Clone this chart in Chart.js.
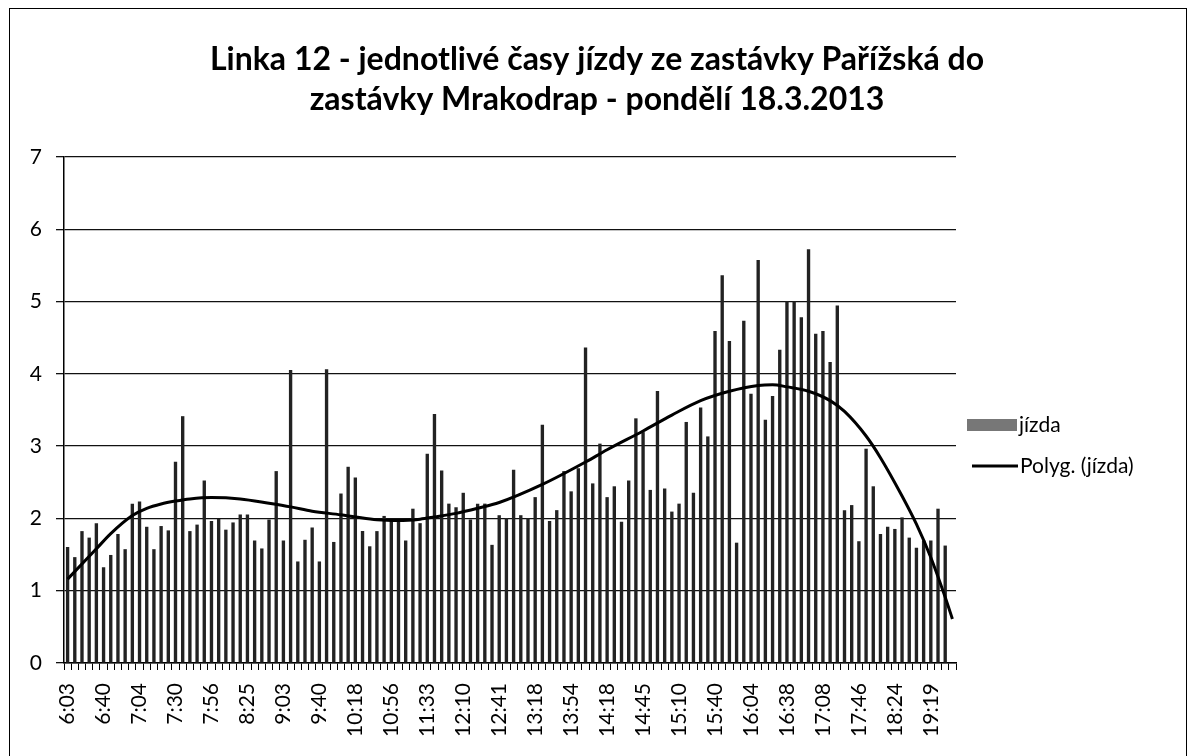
<!DOCTYPE html>
<html>
<head>
<meta charset="utf-8">
<script src="https://cdn.jsdelivr.net/npm/chart.js@4.4.1/dist/chart.umd.min.js"></script>
<style>
  body { margin: 0; background: #fff; }
  #wrap { position: relative; width: 1194px; height: 756px; overflow: hidden; }
  #frame { position: absolute; left: 9px; top: 8px; width: 1176px; height: 800px; border: 1.5px solid #000; }
  canvas { position: absolute; left: 0; top: 0; }
</style>
</head>
<body>
<div id="wrap">
  <div id="frame"></div>
  <canvas id="jizdy" width="1194" height="756"></canvas>
</div>
<script>
// popisky osy x - kazda 5. jizda
const tickLabels = ["6:03","6:40","7:04","7:30","7:56","8:25","9:03","9:40","10:18","10:56","11:33","12:10","12:41",
  "13:18","13:54","14:18","14:45","15:10","15:40","16:04","16:38","17:08","17:46","18:24","19:19"];

// doba jizdy v minutach
const jizda = [1.60,1.46,1.82,1.73,1.93,1.32,1.49,1.78,1.57,2.20,
  2.23,1.88,1.57,1.89,1.83,2.78,3.41,1.82,1.91,2.52,
  1.96,1.99,1.84,1.94,2.05,2.05,1.69,1.58,1.98,2.65,
  1.69,4.05,1.40,1.70,1.87,1.40,4.06,1.67,2.34,2.71,
  2.56,1.82,1.61,1.82,2.03,1.96,1.96,1.69,2.13,1.93,
  2.89,3.44,2.66,2.20,2.15,2.35,1.98,2.20,2.20,1.63,
  2.04,2.00,2.67,2.04,2.00,2.29,3.29,1.96,2.11,2.65,
  2.37,2.69,4.36,2.48,3.03,2.29,2.44,1.95,2.52,3.38,
  3.19,2.39,3.76,2.41,2.09,2.20,3.33,2.35,3.53,3.13,
  4.59,5.36,4.45,1.66,4.73,3.72,5.57,3.36,3.69,4.33,
  5.00,5.00,4.78,5.72,4.55,4.59,4.16,4.94,2.11,2.18,
  1.68,2.96,2.44,1.78,1.88,1.85,2.01,1.73,1.59,1.69,
  1.69,2.13,1.62,null];

// polynomicky trend - body odectene z krivky (index jizdy, hodnota)
const trendIdx = [0,4,6,9,11,13,15,17,20,24,28,31,34,38,40,43,46,49,51,54,57,60,66,72,75,80,84,88,92,96,98,100,103,106,108,111,113,116,118,120,122,123];
const trendVal = [1.16,1.58,1.79,2.04,2.14,2.20,2.24,2.27,2.29,2.27,2.21,2.16,2.10,2.05,2.02,1.98,1.97,1.99,2.02,2.07,2.14,2.22,2.47,2.78,2.95,3.21,3.43,3.63,3.76,3.84,3.85,3.82,3.76,3.63,3.48,3.14,2.84,2.31,1.92,1.46,0.91,0.61];

const categories = jizda.map((v, i) => (i % 5 === 0 && tickLabels[i / 5]) ? tickLabels[i / 5] : "");
const trend = jizda.map(() => null);
trendIdx.forEach((idx, k) => { trend[idx] = trendVal[k]; });

const FONT = "Lato";

const legendRight = {
  id: "legendRight",
  afterDraw(chart) {
    const ctx = chart.ctx;
    ctx.save();
    ctx.font = "21px " + FONT;
    ctx.textBaseline = "middle";
    // jizda
    ctx.fillStyle = "#777";
    ctx.fillRect(967, 419, 50, 12);
    ctx.fillStyle = "#000";
    ctx.fillText(chart.data.datasets[1].label, 1019, 425);
    // trend
    ctx.strokeStyle = "#000";
    ctx.lineWidth = 3;
    ctx.beginPath();
    ctx.moveTo(972, 466);
    ctx.lineTo(1018, 466);
    ctx.stroke();
    ctx.fillText(chart.data.datasets[0].label, 1020, 466);
    ctx.restore();
  }
};

new Chart(document.getElementById("jizdy"), {
  type: "bar",
  data: {
    labels: categories,
    datasets: [
      {
        type: "line",
        label: "Polyg. (jízda)",
        data: trend,
        borderColor: "#000",
        borderWidth: 3,
        pointRadius: 0,
        cubicInterpolationMode: "monotone",
        spanGaps: true,
        order: 0
      },
      {
        label: "jízda",
        data: jizda,
        backgroundColor: "#222",
        barThickness: 2.7,
        order: 1
      }
    ]
  },
  options: {
    responsive: false,
    animation: false,
    layout: { padding: 0 },
    plugins: {
      legend: { display: false },
      tooltip: { enabled: false },
      title: {
        display: true,
        text: ["Linka 12 - jednotlivé časy jízdy ze zastávky Pařížská do", "zastávky Mrakodrap - pondělí 18.3.2013"],
        color: "#000",
        font: { family: FONT, size: 32, weight: "bold", lineHeight: 1.25 },
        padding: { top: 40, bottom: 37 }
      }
    },
    scales: {
      x: {
        offset: true,
        grid: { drawOnChartArea: false, drawTicks: true, tickLength: 7, color: "#000", offset: true },
        border: { color: "#000", width: 1.5 },
        ticks: {
          autoSkip: false,
          maxRotation: 90,
          minRotation: 90,
          padding: 13,
          color: "#000",
          font: { family: FONT, size: 21 }
        },
        afterFit(scale) { scale.height = 93; }
      },
      y: {
        min: 0,
        max: 7,
        ticks: { stepSize: 1, padding: 14, color: "#000", font: { family: FONT, size: 21 } },
        grid: { color: "#111", lineWidth: 1.3, tickLength: 8 },
        border: { color: "#000", width: 1.5 },
        afterFit(scale) { scale.width = 64; }
      },
      // prazdna osa vpravo - misto pro legendu
      yLegend: {
        position: "right",
        min: 0,
        max: 7,
        grid: { display: false },
        border: { display: false },
        ticks: { display: false },
        afterFit(scale) { scale.width = 238; }
      }
    }
  },
  plugins: [legendRight]
});
</script>
</body>
</html>
